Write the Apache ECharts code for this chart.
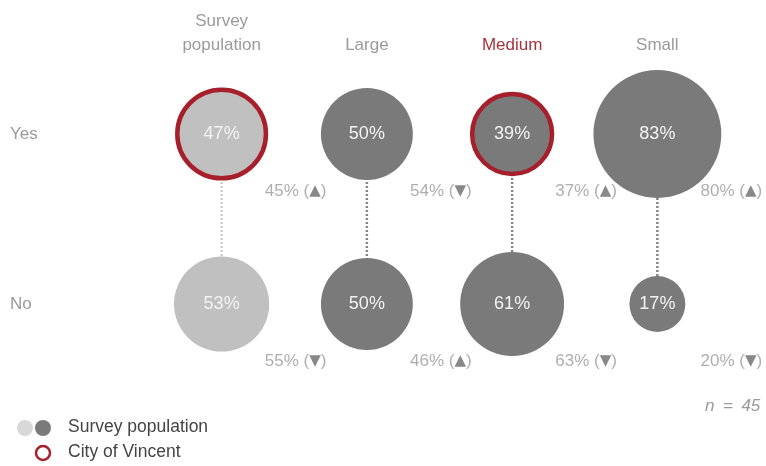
<!DOCTYPE html>
<html>
<head>
<meta charset="utf-8">
<script src="https://cdn.jsdelivr.net/npm/echarts@6/dist/echarts.min.js"></script>
<style>html,body{margin:0;padding:0;background:#fff;}#c{width:766px;height:466px;}</style>
</head>
<body>
<div id="c"></div>
<script>
// ---- data ----
var categories = ['Survey\npopulation', 'Large', 'Medium', 'Small'];
var responses = ['Yes', 'No'];
var yesValues = [47, 50, 39, 83];
var noValues = [53, 50, 61, 17];
var yesComparison = [45, 54, 37, 80];
var yesDirection = ['up', 'down', 'up', 'up'];
var noComparison = [55, 46, 63, 20];
var noDirection = ['down', 'up', 'down', 'down'];
var highlightedCategories = ['Survey\npopulation', 'Medium']; // City of Vincent
var highlightedResponse = 'Yes';
var sampleNote = 'n\u2002=\u200245';

// ---- styles ----
var FONT = 'Liberation Sans, Arial, sans-serif';
var LIGHT = '#c0c0c0';
var DARK = '#7a7a7a';
var RED = '#a61f2b';
var TXT = '#9a9a9a';

var bubbleData = [];
var noteData = [];
[yesValues, noValues].forEach(function (vals, r) {
  var comps = r === 0 ? yesComparison : noComparison;
  var dirs = r === 0 ? yesDirection : noDirection;
  categories.forEach(function (c, i) {
    var hl = highlightedCategories.indexOf(c) >= 0 && responses[r] === highlightedResponse;
    bubbleData.push({
      value: [c, responses[r], vals[i]],
      itemStyle: {
        color: i === 0 ? LIGHT : DARK,
        borderColor: hl ? RED : 'transparent',
        borderWidth: hl ? 4.5 : 0,
        opacity: 1
      }
    });
    noteData.push({
      value: [c, responses[r], comps[i]],
      dir: dirs[i]
    });
  });
});

var lineSeries = categories.map(function (c, i) {
  return {
    type: 'line',
    data: [[c, 'Yes'], [c, 'No']],
    symbol: 'none',
    silent: true,
    z: 1,
    lineStyle: { type: [2, 2], width: 2.5, color: i === 0 ? '#cdcdcd' : '#858585' }
  };
});

var chart = echarts.init(document.getElementById('c'));
chart.setOption({
  animation: false,
  textStyle: { fontFamily: FONT },
  grid: { left: 149, right: 36, top: 49, height: 340 },
  xAxis: {
    type: 'category',
    position: 'top',
    data: categories.map(function (c) {
      return c === 'Medium' ? { value: c, textStyle: { color: '#a8323c' } } : c;
    }),
    axisLine: { show: false },
    axisTick: { show: false },
    splitLine: { show: false },
    axisLabel: { color: TXT, fontSize: 17, lineHeight: 24, margin: -8, fontFamily: FONT, interval: 0 }
  },
  yAxis: {
    type: 'category',
    data: responses,
    inverse: true,
    axisLine: { show: false },
    axisTick: { show: false },
    splitLine: { show: false },
    axisLabel: { color: TXT, fontSize: 17, align: 'left', margin: 139, fontFamily: FONT }
  },
  series: lineSeries.concat([
    {
      type: 'scatter',
      z: 3,
      data: bubbleData,
      symbolSize: function (v) { return 37.4 + 1.09 * v[2]; },
      label: {
        show: true,
        position: 'inside',
        color: '#f2f2f2',
        fontSize: 18,
        fontFamily: FONT,
        formatter: function (p) { return p.value[2] + '%'; }
      }
    },
    {
      type: 'scatter',
      z: 4,
      data: noteData,
      symbolSize: 0,
      silent: true,
      label: {
        show: true,
        position: 'inside',
        offset: [74, 57],
        color: TXT,
        fontSize: 17,
        fontFamily: FONT,
        formatter: function (p) {
          return p.value[2] + '% (' + '{t|' + (p.data.dir === 'up' ? '▲' : '▼') + '}' + ')';
        },
        rich: { t: { color: '#6a6a6a', fontSize: 15, fontFamily: 'DejaVu Sans' } }
      }
    }
  ]),
  graphic: [
    { type: 'circle', shape: { cx: 25, cy: 428, r: 8 }, style: { fill: '#d8d8d8' } },
    { type: 'circle', shape: { cx: 43, cy: 428, r: 8 }, style: { fill: DARK } },
    { type: 'text', left: 68, top: 418, style: { text: 'Survey population', fill: '#444', fontSize: 17.5, fontFamily: FONT } },
    { type: 'circle', shape: { cx: 43, cy: 453, r: 7 }, style: { fill: '#fff', stroke: RED, lineWidth: 2.5 } },
    { type: 'text', left: 68, top: 443, style: { text: 'City of Vincent', fill: '#444', fontSize: 17.5, fontFamily: FONT } },
    { type: 'text', left: 705, top: 398, style: { text: sampleNote, fill: '#9a9a9a', fontSize: 17, fontStyle: 'italic', fontFamily: FONT } }
  ]
});
</script>
</body>
</html>
